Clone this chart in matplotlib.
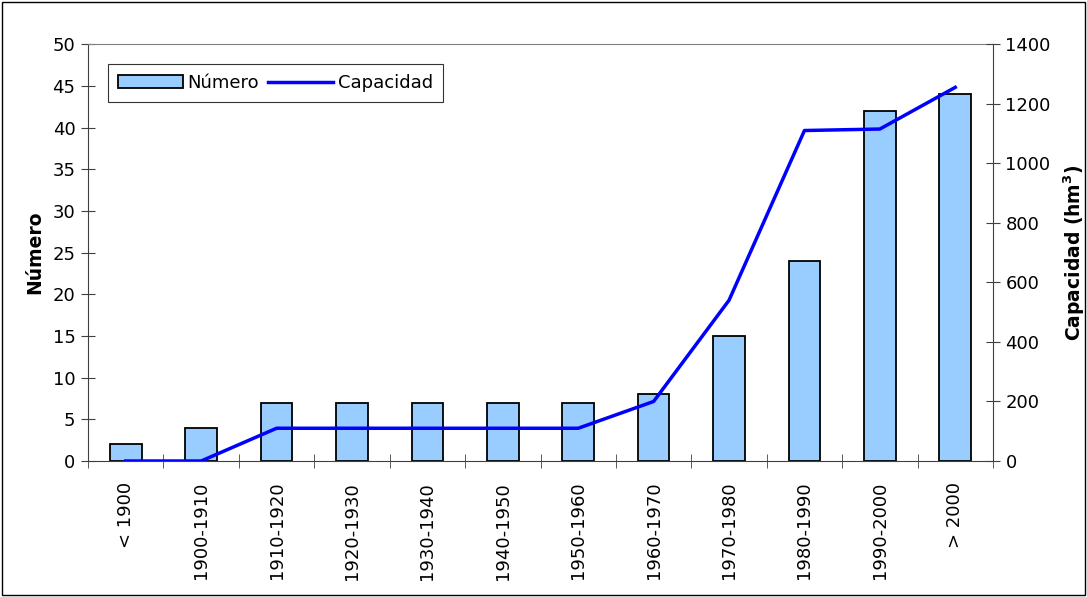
import matplotlib
matplotlib.use("Agg")
import matplotlib.pyplot as plt
import numpy as np

categories = ["< 1900", "1900-1910", "1910-1920", "1920-1930", "1930-1940", "1940-1950",
              "1950-1960", "1960-1970", "1970-1980", "1980-1990", "1990-2000", "> 2000"]
numero = [2, 4, 7, 7, 7, 7, 7, 8, 15, 24, 42, 44]
capacidad = [0, 0, 110, 110, 110, 110, 110, 200, 540, 1110, 1115, 1255]

plt.rcParams['font.family'] = ['DejaVu Sans']
FS = 13
fig = plt.figure(figsize=(10.87, 5.97), dpi=100)
ax = fig.add_axes([0.081, 0.2278, 0.8325, 0.6982])
x = np.arange(len(categories))
bars = ax.bar(x, numero, width=0.42, color='#99CCFF', edgecolor='black', linewidth=1.3, label='Número', zorder=2)
ax.set_xlim(-0.5, len(categories) - 0.5)
ax.set_ylim(0, 50)
ax.set_yticks(np.arange(0, 51, 5))
ax.set_xticks(x)
ax.set_xticklabels(categories, rotation=90, fontsize=FS)
ax.tick_params(axis='x', length=0, pad=15)
ax.set_xticks(np.arange(-0.5, len(categories), 1), minor=True)
ax.tick_params(axis='x', which='minor', direction='inout', length=10, color='#404040')
ax.tick_params(axis='y', direction='inout', length=10, labelsize=FS, color='#404040', pad=4)
ax.set_ylabel('Número', fontsize=13.5, fontweight='bold', labelpad=6)
ax.spines['top'].set_color('#808080')
ax.spines['right'].set_visible(False)
ax.spines['left'].set_color('#404040')
ax.spines['bottom'].set_color('#404040')

ax2 = ax.twinx()
line, = ax2.plot(x, capacidad, color='#0000FF', linewidth=2.5, label='Capacidad', zorder=3)
ax2.set_ylim(0, 1400)
ax2.set_yticks(np.arange(0, 1401, 200))
ax2.tick_params(axis='y', direction='inout', length=10, labelsize=FS, color='#404040', pad=4)
ax2.set_ylabel('Capacidad (hm$^\\mathbf{3}$)', fontsize=13.5, fontweight='bold', labelpad=8)
ax2.spines['right'].set_color('#404040')
ax2.spines['top'].set_visible(False)
ax2.spines['left'].set_visible(False)
ax2.spines['bottom'].set_visible(False)

leg = ax2.legend([bars, line], ['Número', 'Capacidad'], loc='upper left', ncol=2,
                 bbox_to_anchor=(0.022, 0.952), frameon=True, fancybox=False,
                 edgecolor='black', fontsize=FS, handlelength=3.6, columnspacing=0.5,
                 handletextpad=0.25, borderpad=0.55, borderaxespad=0)
leg.get_frame().set_linewidth(0.8)

fig.patches.append(plt.Rectangle((0.002, 0.003), 0.996, 0.994, transform=fig.transFigure,
                                 fill=False, edgecolor='black', linewidth=1))
fig.savefig('out.png', dpi=100)
